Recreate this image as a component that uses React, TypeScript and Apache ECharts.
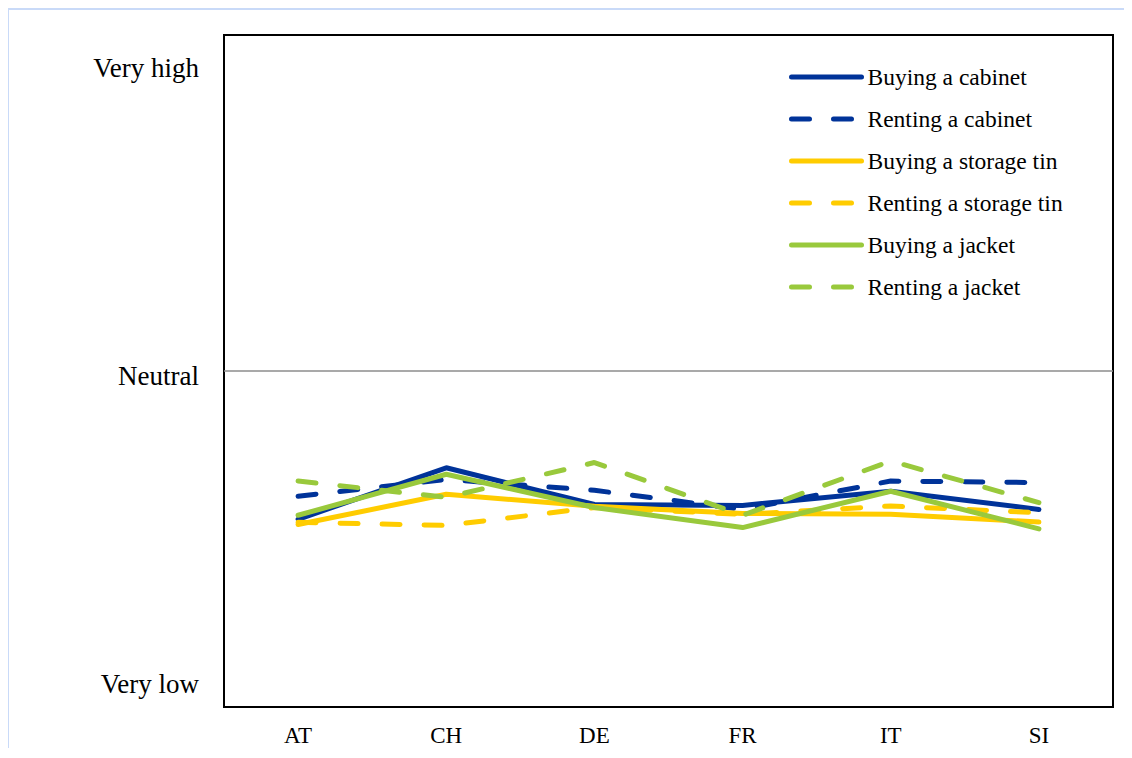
import React, { useEffect, useRef } from "react";
import * as echarts from "echarts";

const countries = ["AT", "CH", "DE", "FR", "IT", "SI"];
const yTickValues = [-1, 0, 1];
const yTickLabels = ["Very low", "Neutral", "Very high"];

const buyingCabinet = [-0.481, -0.314, -0.433, -0.436, -0.39, -0.449];
const rentingCabinet = [-0.406, -0.352, -0.387, -0.449, -0.357, -0.362];
const buyingTin = [-0.498, -0.4, -0.439, -0.462, -0.465, -0.49];
const rentingTin = [-0.491, -0.501, -0.443, -0.465, -0.438, -0.46];
const buyingJacket = [-0.468, -0.335, -0.443, -0.508, -0.39, -0.512];
const rentingJacket = [-0.357, -0.41, -0.297, -0.468, -0.292, -0.427];

const BLUE = "#003399";
const YELLOW = "#FFCC00";
const GREEN = "#99C93C";
const FONT = "'Liberation Serif', 'Times New Roman', serif";

function mk(name: string, data: number[], color: string, dashed: boolean, extra: any = {}) {
  return {
    name,
    type: "line",
    data,
    symbol: "none",
    showSymbol: false,
    lineStyle: {
      color,
      width: 5,
      type: dashed ? [18, 24] : "solid",
      cap: "round",
    },
    itemStyle: { color },
    ...extra,
  };
}

export default function App() {
  const ref = useRef<HTMLDivElement>(null);
  useEffect(() => {
    if (!ref.current) return;
    const chart = echarts.init(ref.current, null, { renderer: "svg" });
    chart.setOption({
      animation: false,
      backgroundColor: "#ffffff",
      grid: {
        left: 214,
        top: 25,
        right: 19,
        bottom: 41,
        show: true,
        borderColor: "#000000",
        borderWidth: 2,
        backgroundColor: "transparent",
      },
      legend: {
        orient: "vertical",
        left: 774,
        top: 50,
        itemWidth: 70,
        itemHeight: 24,
        itemGap: 18,
        itemStyle: { opacity: 0 },
        lineStyle: { width: 5, cap: "round" },
        textStyle: {
          fontFamily: FONT,
          fontSize: 23.5,
          color: "#000",
          lineHeight: 24,
          padding: [0, 0, 0, 1],
        },
        data: [
          "Buying a cabinet",
          "Renting a cabinet",
          "Buying a storage tin",
          "Renting a storage tin",
          "Buying a jacket",
          "Renting a jacket",
        ],
      },
      xAxis: {
        type: "category",
        data: countries,
        boundaryGap: true,
        axisLine: { show: false },
        axisTick: { show: false },
        splitLine: { show: false },
        axisLabel: {
          fontFamily: FONT,
          fontSize: 23,
          color: "#000",
          margin: 17,
        },
      },
      yAxis: {
        type: "value",
        min: -1.09,
        max: 1.09,
        axisLine: { show: false },
        axisTick: { show: false },
        splitLine: { show: false },
        axisLabel: {
          customValues: yTickValues,
          fontFamily: FONT,
          fontSize: 27,
          color: "#000",
          margin: 25,
          verticalAlign: "top",
          lineHeight: 10,
          formatter: (v: number) => {
            const i = yTickValues.findIndex((t) => Math.abs(t - v) < 1e-6);
            return i >= 0 ? yTickLabels[i] : "";
          },
        },
      },
      series: [
        mk("Buying a cabinet", buyingCabinet, BLUE, false, {
          markLine: {
            silent: true,
            symbol: "none",
            label: { show: false },
            lineStyle: { color: "#8c8c8c", width: 1.5, type: "solid" },
            data: [{ yAxis: 0 }],
            z: 1,
          },
        }),
        mk("Renting a cabinet", rentingCabinet, BLUE, true),
        mk("Buying a storage tin", buyingTin, YELLOW, false),
        mk("Renting a storage tin", rentingTin, YELLOW, true),
        mk("Buying a jacket", buyingJacket, GREEN, false),
        mk("Renting a jacket", rentingJacket, GREEN, true),
      ],
    });
    return () => chart.dispose();
  }, []);
  return (
    <div
      style={{
        width: 1124,
        height: 740,
        marginLeft: -1,
        boxSizing: "border-box",
        borderTop: "2px solid #c9daf8",
        borderLeft: "2px solid #c9daf8",
        background: "#fff",
      }}
    >
      <div ref={ref} style={{ width: 1122, height: 738, marginLeft: 1 }} />
    </div>
  );
}
